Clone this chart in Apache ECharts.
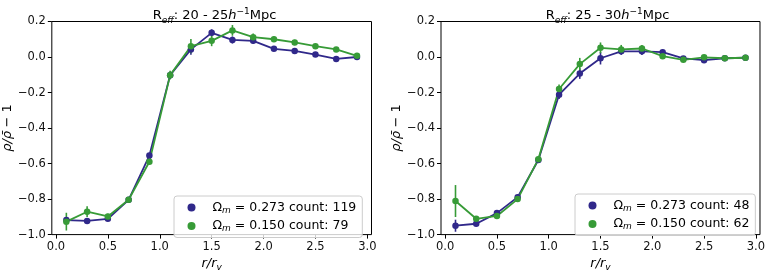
<!DOCTYPE html>
<html>
<head>
  <meta charset="utf-8">
  <title>rho profiles</title>
  <script src="https://cdn.jsdelivr.net/npm/echarts@6/dist/echarts.min.js"></script>
  <style>
    html, body { margin: 0; padding: 0; background: #fff; }
    #chart { width: 768px; height: 277px; }
  </style>
</head>
<body>
  <div id="chart"></div>
  <script>
    // radial bins r/r_v
    var xs = [0.1, 0.3, 0.5, 0.7, 0.9, 1.1, 1.3, 1.5, 1.7, 1.9, 2.1, 2.3, 2.5, 2.7, 2.9];
    var xTicks = [0, 0.5, 1, 1.5, 2, 2.5, 3];
    var yTicks = [-1, -0.8, -0.6, -0.4, -0.2, 0, 0.2];

    // panel 1: R_eff 20-25
    var leftBlue     = [-0.918, -0.923, -0.911, -0.804, -0.555, -0.102, 0.043, 0.136, 0.096, 0.091, 0.046, 0.034, 0.014, -0.011, 0.0];
    var leftBlueErr  = [0.015, 0.012, 0.012, 0.012, 0.015, 0.02, 0.03, 0.02, 0.02, 0.015, 0.012, 0.012, 0.012, 0.012, 0.01];
    var leftGreen    = [-0.927, -0.871, -0.898, -0.804, -0.59, -0.102, 0.061, 0.091, 0.15, 0.112, 0.1, 0.082, 0.061, 0.043, 0.007];
    var leftGreenErr = [0.05, 0.03, 0.015, 0.012, 0.015, 0.025, 0.04, 0.03, 0.03, 0.02, 0.015, 0.015, 0.012, 0.012, 0.01];

    // panel 2: R_eff 25-30
    var rightBlue     = [-0.95, -0.939, -0.879, -0.789, -0.58, -0.212, -0.093, -0.007, 0.032, 0.032, 0.027, -0.008, -0.018, -0.007, -0.004];
    var rightBlueErr  = [0.034, 0.012, 0.015, 0.015, 0.015, 0.025, 0.03, 0.035, 0.02, 0.02, 0.015, 0.012, 0.012, 0.01, 0.01];
    var rightGreen    = [-0.811, -0.911, -0.895, -0.8, -0.575, -0.18, -0.04, 0.052, 0.043, 0.048, 0.005, -0.016, -0.002, -0.007, -0.004];
    var rightGreenErr = [0.09, 0.015, 0.015, 0.015, 0.015, 0.025, 0.035, 0.03, 0.025, 0.02, 0.015, 0.012, 0.012, 0.01, 0.01];

    var leftNames  = ['0.273 count: 119', '0.150 count: 79'];
    var rightNames = ['0.273 count: 48', '0.150 count: 62'];

    var blue = '#30288a';
    var green = '#379b37';
    var font = 'DejaVu Sans';

    function pts(ys, errs) {
      return xs.map(function (x, i) { return [x, ys[i], errs[i]]; });
    }

    function fmt(v) {
      if (Math.abs(v) < 1e-9) return '0.0';
      return v.toFixed(1).replace('-', '\u2212');
    }

    function errBars(gi, ys, errs, color) {
      return {
        type: 'custom',
        xAxisIndex: gi, yAxisIndex: gi,
        data: pts(ys, errs),
        itemStyle: { color: color },
        silent: true,
        renderItem: function (params, api) {
          var x = api.value(0), y = api.value(1), e = api.value(2);
          var a = api.coord([x, y - e]);
          var b = api.coord([x, y + e]);
          return {
            type: 'line',
            shape: { x1: a[0], y1: a[1], x2: b[0], y2: b[1] },
            style: { stroke: color, lineWidth: 1.6 }
          };
        }
      };
    }

    function line(gi, name, ys, errs, color) {
      return {
        type: 'line',
        name: name,
        xAxisIndex: gi, yAxisIndex: gi,
        data: pts(ys, errs),
        symbol: 'circle',
        symbolSize: 6.5,
        showSymbol: true,
        lineStyle: { color: color, width: 1.8 },
        itemStyle: { color: color },
        animation: false
      };
    }

    var richBase = {
      a: { fontFamily: font, fontSize: 12.5, color: '#000', lineHeight: 15 },
      p: { fontFamily: font, fontSize: 12.5, color: '#000', lineHeight: 15, padding: [0, 0, 0, 12] },
      s: { fontFamily: font, fontSize: 9, fontStyle: 'italic', color: '#000', lineHeight: 8, verticalAlign: 'bottom' }
    };

    function legendFmt(name) {
      return '{p|\u03a9}{s|m}{a| = ' + name + '}';
    }

    function legend(left, top, names) {
      return {
        data: names,
        orient: 'vertical',
        left: left, top: top,
        icon: 'circle',
        itemWidth: 8, itemHeight: 8,
        itemGap: 4.5,
        padding: [5, 6, 4, 13.5],
        backgroundColor: 'rgba(255,255,255,0.8)',
        borderColor: '#cccccc',
        borderWidth: 1,
        borderRadius: 3,
        selectedMode: false,
        formatter: legendFmt,
        textStyle: { rich: richBase }
      };
    }

    function title(cx, range) {
      var base = { fontFamily: font, fontWeight: 'normal', color: '#000' };
      return {
        text: '{t|R}{sub|eff}{t|: ' + range + '}{i|h}{sup|\u22121}{t|Mpc}',
        left: cx, top: 2, textAlign: 'center',
        textStyle: {
          fontWeight: 'normal',
          rich: {
            t: Object.assign({ fontSize: 13, lineHeight: 18 }, base),
            i: Object.assign({ fontSize: 13, fontStyle: 'italic', lineHeight: 18 }, base),
            sub: Object.assign({ fontSize: 9, fontStyle: 'italic', lineHeight: 10, verticalAlign: 'bottom' }, base),
            sup: Object.assign({ fontSize: 9, lineHeight: 14, verticalAlign: 'top' }, base)
          }
        }
      };
    }

    function xAxis(gi) {
      return {
        gridIndex: gi, type: 'value', min: -0.04, max: 3.04,
        name: '{i|r/r}{s|v}', nameLocation: 'middle', nameGap: 18,
        nameTextStyle: {
          rich: {
            i: { fontFamily: font, fontSize: 13, fontStyle: 'italic', color: '#000', lineHeight: 16 },
            s: { fontFamily: font, fontSize: 9, fontStyle: 'italic', color: '#000', lineHeight: 9, verticalAlign: 'bottom' }
          }
        },
        axisLine: { show: false, onZero: false },
        axisTick: { show: true, length: 4, customValues: xTicks, lineStyle: { color: '#000' } },
        axisLabel: { customValues: xTicks, formatter: fmt, fontFamily: font, fontSize: 11.5, color: '#111', margin: 6 },
        splitLine: { show: false }
      };
    }

    function yAxis(gi) {
      return {
        gridIndex: gi, type: 'value', min: -1, max: 0.2,
        name: '{i|\u03c1/\u03c1\u0304} {a|\u2212 1}', nameLocation: 'middle', nameGap: 28, nameRotate: 90,
        nameTextStyle: {
          rich: {
            i: { fontFamily: font, fontSize: 13, fontStyle: 'italic', color: '#000' },
            a: { fontFamily: font, fontSize: 13, color: '#000' }
          }
        },
        axisLine: { show: false, onZero: false },
        axisTick: { show: true, length: 4, customValues: yTicks, lineStyle: { color: '#000' } },
        axisLabel: { customValues: yTicks, formatter: fmt, fontFamily: font, fontSize: 11.5, color: '#111', margin: 6 },
        splitLine: { show: false }
      };
    }

    var chart = echarts.init(document.getElementById('chart'), null, { renderer: 'canvas' });
    var gridStyle = { show: true, borderColor: '#000', borderWidth: 1, backgroundColor: 'transparent' };

    var option = {
      animation: false,
      backgroundColor: '#fff',
      title: [title(209.5, '20 - 25'), title(602.5, '25 - 30')],
      legend: [legend(174, 196, leftNames), legend(575, 194, rightNames)],
      grid: [
        Object.assign({ left: 47.5, top: 21.5, width: 324, height: 224 }, gridStyle),
        Object.assign({ left: 441, top: 21.5, width: 323, height: 224 }, gridStyle)
      ],
      xAxis: [xAxis(0), xAxis(1)],
      yAxis: [yAxis(0), yAxis(1)],
      series: [
        errBars(0, leftBlue, leftBlueErr, blue),
        line(0, leftNames[0], leftBlue, leftBlueErr, blue),
        errBars(0, leftGreen, leftGreenErr, green),
        line(0, leftNames[1], leftGreen, leftGreenErr, green),
        errBars(1, rightBlue, rightBlueErr, blue),
        line(1, rightNames[0], rightBlue, rightBlueErr, blue),
        errBars(1, rightGreen, rightGreenErr, green),
        line(1, rightNames[1], rightGreen, rightGreenErr, green)
      ]
    };
    chart.setOption(option);
  </script>
</body>
</html>
